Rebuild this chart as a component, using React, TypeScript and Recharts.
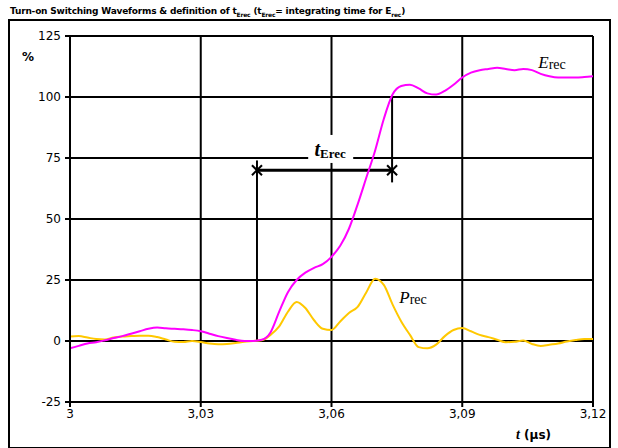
import React from 'react'
import {
  ComposedChart,
  Line,
  XAxis,
  YAxis,
  CartesianGrid,
  ReferenceLine,
  ReferenceDot
} from 'recharts'

// time axis (µs)
const times = [
  3.000, 3.002, 3.004, 3.006, 3.008, 3.010, 3.012, 3.014, 3.016, 3.018,
  3.020, 3.022, 3.024, 3.026, 3.028, 3.030, 3.032, 3.034, 3.036, 3.038,
  3.040, 3.042, 3.044, 3.046, 3.048, 3.050, 3.052, 3.054, 3.056, 3.058,
  3.060, 3.062, 3.064, 3.066, 3.068, 3.070, 3.072, 3.074, 3.076, 3.078,
  3.080, 3.082, 3.084, 3.086, 3.088, 3.090, 3.092, 3.094, 3.096, 3.098,
  3.100, 3.102, 3.104, 3.106, 3.108, 3.110, 3.112, 3.114, 3.116, 3.118,
  3.120
]

// E_rec in %
const erec = [
  -3, -2, -1, -0.5, 0.3, 1.2, 2, 3, 4, 5,
  5.5, 5.2, 5, 4.8, 4.5, 4, 3, 2, 1.2, 0.5,
  0, 0, 0.5, 3.5, 12, 20, 25, 28, 30, 31.5,
  34.5, 39, 46, 56, 67, 78, 91, 101, 104.5, 105,
  103.5, 101.5, 101, 102.5, 105, 108, 110, 111, 111.5, 112,
  111.5, 111, 111.5, 111, 109.5, 108.5, 108, 108, 108, 108.2,
  108.5
]

// P_rec in %
const prec = [
  1.8, 2, 1.4, 0.8, 0.6, 1.4, 1.8, 2, 2.2, 2.2,
  1.6, 0.6, -0.3, -0.4, 0, -0.4, -1, -1.3, -1.2, -0.8,
  -0.3, 0, 0.3, 2.5, 6, 12, 16, 13.5, 8.5, 5,
  4.5, 8, 11.5, 14, 20, 25.5, 23, 15, 8, 2.5,
  -2.5, -3, -1.5, 2, 4.5, 5.3, 4, 2.5, 1.6, 0.5,
  -0.5, -0.3, 0.2, -1.2, -2, -1.5, -1, -0.2, 0.4, 0.8,
  0.8
]

const xTicks = [3, 3.03, 3.06, 3.09, 3.12]
const yTicks = [-25, 0, 25, 50, 75, 100, 125]

// t_Erec definition
const tStart = 3.0429
const tEnd = 3.0739
const tLevel = 70

const data = times.map((t, i) => ({ t, erec: erec[i], prec: prec[i] }))

const axisFont = { fontFamily: 'DejaVu Sans', fontSize: 12, fill: '#000' }

const Cross = ({ cx, cy }: any) => (
  <g stroke="#000" strokeWidth={2}>
    <line x1={cx - 5} y1={cy - 5} x2={cx + 5} y2={cy + 5} />
    <line x1={cx - 5} y1={cy + 5} x2={cx + 5} y2={cy - 5} />
  </g>
)

const TErecLabel = ({ cx, cy }: any) => (
  <g>
    <rect x={cx - 22} y={cy - 15} width={45} height={28} fill="#fff" />
    <text x={cx} y={cy + 6} textAnchor="middle" fontFamily="Liberation Serif" fontWeight="bold" fill="#000">
      <tspan fontSize={20} fontStyle="italic">t</tspan>
      <tspan fontSize={13} dy={2}>Erec</tspan>
    </text>
  </g>
)

const SeriesLabel = (main: string, sub: string) => ({ cx, cy }: any) => (
  <text x={cx} y={cy + 5} textAnchor="middle" fontFamily="Liberation Serif" fill="#000">
    <tspan fontSize={17} fontStyle="italic">{main}</tspan>
    <tspan fontSize={14} dy={1}>{sub}</tspan>
  </text>
)

export default function App() {
  return (
    <div style={{ position: 'absolute', left: 0, top: 0, width: 618, height: 448, background: '#fff' }}>
      <div
        style={{
          position: 'absolute', left: 10, top: 6, fontFamily: 'DejaVu Sans', fontWeight: 'bold',
          fontSize: 9, letterSpacing: -0.2, whiteSpace: 'nowrap', color: '#000'
        }}
      >
        Turn-on Switching Waveforms &amp; definition of t<sub style={{ fontSize: 6 }}>Erec</sub> (t
        <sub style={{ fontSize: 6 }}>Erec</sub>= integrating time for E<sub style={{ fontSize: 6 }}>rec</sub>)
      </div>
      <div
        style={{
          position: 'absolute', left: 8, top: 19, width: 603, height: 430,
          border: '2px solid #000', boxSizing: 'border-box'
        }}
      />
      <div style={{ position: 'absolute', left: 0, top: 0 }}>
        <ComposedChart width={618} height={448} data={data} margin={{ top: 36, right: 25, bottom: 16, left: 0 }}>
          <CartesianGrid stroke="#000" strokeWidth={2} />
          <XAxis
            dataKey="t"
            type="number"
            domain={[3, 3.12]}
            ticks={xTicks}
            tickFormatter={(v: number) => String(v).replace('.', ',')}
            tick={axisFont}
            tickSize={5}
            stroke="#000"
            strokeWidth={2}
            height={30}
            interval={0}
          />
          <YAxis
            type="number"
            domain={[-25, 125]}
            ticks={yTicks}
            tick={axisFont}
            tickSize={5}
            tickMargin={4}
            stroke="#000"
            strokeWidth={2}
            width={70}
            interval={0}
          />
          <ReferenceLine segment={[{ x: tStart, y: 0 }, { x: tStart, y: 74 }]} stroke="#000" strokeWidth={2} />
          <ReferenceLine segment={[{ x: tEnd, y: 100 }, { x: tEnd, y: 65 }]} stroke="#000" strokeWidth={2} />
          <ReferenceLine segment={[{ x: tStart, y: tLevel }, { x: tEnd, y: tLevel }]} stroke="#000" strokeWidth={3} />
          <ReferenceDot x={tStart} y={tLevel} shape={Cross} />
          <ReferenceDot x={tEnd} y={tLevel} shape={Cross} />
          <ReferenceDot x={3.0597} y={78.3} shape={TErecLabel} />
          <Line type="monotone" dataKey="prec" stroke="#FFC800" strokeWidth={2} dot={false} isAnimationActive={false} />
          <Line type="monotone" dataKey="erec" stroke="#FF00FF" strokeWidth={2} dot={false} isAnimationActive={false} />
          <ReferenceDot x={3.1106} y={114} shape={SeriesLabel('E', 'rec')} />
          <ReferenceDot x={3.0787} y={17.6} shape={SeriesLabel('P', 'rec')} />
        </ComposedChart>
      </div>
      <div style={{ position: 'absolute', left: 22, top: 50, fontFamily: 'DejaVu Sans', fontSize: 12, fontWeight: 'bold' }}>
        %
      </div>
      <div style={{ position: 'absolute', left: 516, top: 427, fontFamily: 'DejaVu Sans', fontSize: 12, fontWeight: 'bold', whiteSpace: 'nowrap' }}>
        <span style={{ fontFamily: 'Liberation Serif', fontStyle: 'italic', fontSize: 14 }}>t</span> (µs)
      </div>
    </div>
  )
}
